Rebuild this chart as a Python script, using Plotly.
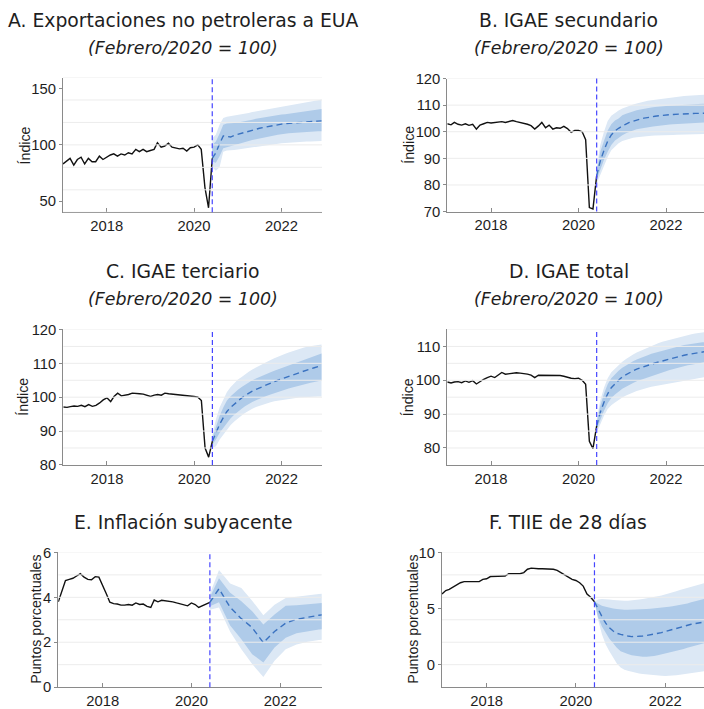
import pandas as pd
import plotly.graph_objects as go

# ---------------- data ----------------
HIST_DATES = pd.date_range("2017-01-01", "2020-06-01", freq="MS")
FC_DATES = pd.date_range("2020-06-01", "2022-12-01", freq="MS")
E_FC_DATES = ["2020-06-01", "2020-08-15", "2020-11-15", "2021-02-15", "2021-05-15", "2021-08-15",
              "2021-11-15", "2022-02-15", "2022-05-15", "2022-08-15", "2022-11-15", "2022-12-31"]
FORECAST_START = "2020-06-01"
YEAR_TICKS = ["2018-01-01", "2020-01-01", "2022-01-01"]
YEAR_LABELS = ["2018", "2020", "2022"]

# A. Exportaciones no petroleras a EUA
A_hist = [83, 86, 88, 82, 87, 89, 83, 88, 85, 85, 90, 87,
          89, 91, 92, 90, 92, 91, 93, 92, 96, 94, 96, 94,
          95, 96, 102, 98, 99, 101.5, 98, 97, 96.5, 97, 94.5, 97.5,
          98, 100, 96, 62, 44, 88]
A_center = [88, 93, 101, 108, 107.5, 107, 108.5,
            109.5, 110.5, 111.5, 112.5, 113.3, 114, 114.8, 115.5, 116.2, 116.8, 117.4, 118,
            118.5, 118.9, 119.2, 119.5, 119.8, 120.1, 120.4, 120.6, 120.8, 121, 121.2, 121.4]
A_in_hi = [100, 103, 110, 118, 119, 119, 119.5,
           120, 120.5, 121, 121.8, 122.5, 123.2, 123.8, 124.4, 125, 125.5, 126, 126.5,
           127, 127.4, 127.8, 128.2, 128.6, 129, 129.5, 130, 130.5, 131, 131.5, 132]
A_in_lo = [85, 84, 90, 97, 98, 99, 99.5,
           100.5, 101.5, 102.5, 103.5, 104.3, 105, 105.8, 106.5, 107.2, 107.8, 108.4, 109,
           109.6, 110, 110.3, 110.6, 110.9, 111.2, 111.4, 111.6, 111.8, 112, 112.1, 112.2]
A_out_hi = [106, 109, 118, 124, 125, 125.5, 126,
            126.5, 127, 127.8, 128.5, 129.2, 129.8, 130.4, 131, 131.6, 132.2, 132.8, 133.3,
            133.8, 134.3, 134.8, 135.3, 135.8, 136.3, 136.8, 137.5, 138.2, 139, 139.8, 140.5]
A_out_lo = [80, 77, 80, 94, 95, 95, 95.5,
            96, 96.5, 97, 97.5, 98, 98.5, 99, 99.4, 99.8, 100.2, 100.6, 101,
            101.4, 101.7, 102, 102.2, 102.4, 102.6, 102.8, 103, 103.1, 103.2, 103.3, 103.4]

# B. IGAE secundario
B_hist = [103, 102.6, 103.5, 102.8, 102.5, 103, 102.4, 102.8, 101, 102.5, 103, 103.5,
          103.3, 103.5, 103.6, 103.8, 103.5, 104, 104.2, 103.8, 103.5, 103.2, 102.8, 102.3,
          101, 102.2, 103.5, 101.5, 102.5, 101, 101.5, 101.3, 102, 101.2, 99.8, 100.5,
          100.5, 100, 97, 71.5, 71, 83.5]
B_center = [83.5, 89, 93, 96.5, 98.8, 100.3, 101.3,
            102.2, 102.9, 103.5, 104, 104.4, 104.8, 105.1, 105.4, 105.6, 105.8, 106, 106.2,
            106.3, 106.4, 106.5, 106.6, 106.7, 106.75, 106.8, 106.85, 106.9, 106.9, 107, 107]
B_in_hi = [85, 92.5, 96.5, 100.5, 102.8, 104.2, 105,
           106.2, 106.8, 107.3, 107.7, 108.1, 108.4, 108.7, 108.9, 109.1, 109.3, 109.5, 109.6,
           109.7, 109.8, 109.9, 110, 110.1, 110.2, 110.3, 110.3, 110.4, 110.4, 110.5, 110.5]
B_in_lo = [82, 86, 89.5, 92.5, 95, 96.7, 97.8,
           98.7, 99.4, 100, 100.5, 100.9, 101.2, 101.5, 101.7, 101.9, 102.1, 102.3, 102.5,
           102.6, 102.7, 102.8, 102.9, 103, 103.1, 103.2, 103.3, 103.3, 103.4, 103.4, 103.5]
B_out_hi = [86.5, 95, 100, 104, 106, 107.2, 108,
            108.7, 109.3, 109.8, 110.2, 110.6, 111, 111.3, 111.6, 111.8, 112, 112.2, 112.4,
            112.6, 112.8, 113, 113.1, 113.2, 113.4, 113.5, 113.6, 113.7, 113.8, 113.9, 114]
B_out_lo = [80.5, 84, 87.5, 90.5, 93, 94.5, 95.7,
            96.5, 97, 97.4, 97.7, 97.9, 98.1, 98.3, 98.4, 98.5, 98.6, 98.6, 98.7,
            98.7, 98.8, 98.8, 98.9, 98.9, 99, 99, 99, 99.1, 99.1, 99.1, 99.2]

# C. IGAE terciario
C_hist = [97.1, 97, 97.2, 97.4, 97.3, 97.6, 97.2, 97.8, 97.3, 97.6, 98.3, 99.2,
          99.8, 98.7, 100.2, 101.2, 100.4, 100.5, 100.8, 101.2, 101, 101, 100.9, 100.6,
          100.2, 100.6, 100.8, 100.6, 101.2, 101, 100.9, 100.7, 100.8, 100.5, 100.4, 100.3,
          100.2, 100, 99, 85, 82.3, 87]
C_center = [87, 89.5, 92, 94, 95.8, 97, 98,
            99, 99.8, 100.5, 101.2, 101.8, 102.3, 102.8, 103.3, 103.8, 104.2, 104.6, 105,
            105.4, 105.8, 106.2, 106.6, 107, 107.4, 107.7, 108, 108.4, 108.7, 109, 109.3]
C_in_hi = [88, 91.5, 94.5, 97, 99, 100.3, 101.3,
           102.2, 103, 103.7, 104.4, 105, 105.5, 106, 106.5, 107, 107.4, 107.8, 108.2,
           108.6, 109, 109.4, 109.8, 110.2, 110.6, 111, 111.4, 111.8, 112.2, 112.5, 112.9]
C_in_lo = [86, 87.5, 89.5, 91, 92.6, 93.8, 94.8,
           95.8, 96.6, 97.3, 98, 98.6, 99.1, 99.6, 100, 100.4, 100.8, 101.2, 101.6,
           102, 102.3, 102.6, 102.9, 103.2, 103.5, 103.8, 104.1, 104.3, 104.5, 104.7, 104.9]
C_out_hi = [89, 93.5, 97, 99.5, 101.5, 103, 104.2,
            105.2, 106, 106.8, 107.5, 108.2, 108.8, 109.4, 110, 110.5, 111, 111.5, 112,
            112.4, 112.8, 113.2, 113.6, 114, 114.3, 114.6, 114.9, 115.1, 115.3, 115.5, 115.6]
C_out_lo = [85, 85.5, 87.5, 89, 90.5, 91.8, 92.8,
            93.8, 94.6, 95.3, 96, 96.6, 97.1, 97.5, 97.9, 98.2, 98.5, 98.8, 99,
            99.2, 99.4, 99.6, 99.7, 99.8, 99.9, 100, 100, 100.1, 100.1, 100.2, 100.2]

# D. IGAE total
D_hist = [99.5, 99.2, 99.5, 99.6, 99.3, 99.8, 99.4, 99.9, 98.9, 99.7, 100.3, 100.8,
          101.2, 100.8, 101.5, 102.3, 101.8, 102, 102.1, 102.2, 102.1, 102, 101.8, 101.5,
          100.8, 101.5, 101.5, 101.3, 101.5, 101.5, 101.4, 101.4, 101.2, 100.8, 100.6, 100.5,
          100.6, 100, 98.8, 82, 79.8, 86.5]
D_center = [86.5, 90.5, 93.5, 96, 97.8, 99, 100,
            101, 101.7, 102.3, 102.8, 103.3, 103.7, 104.1, 104.5, 104.8, 105.1, 105.4, 105.7,
            106, 106.3, 106.6, 106.9, 107.1, 107.4, 107.6, 107.8, 108, 108.2, 108.4, 108.5]
D_in_hi = [87.5, 92.5, 96, 98.8, 100.6, 101.8, 102.8,
           103.7, 104.4, 105, 105.6, 106.1, 106.6, 107, 107.4, 107.8, 108.1, 108.4, 108.8,
           109.1, 109.4, 109.7, 110, 110.2, 110.4, 110.6, 110.8, 111, 111.1, 111.2, 111.3]
D_in_lo = [85.5, 88.5, 91, 93.2, 94.8, 95.8, 96.7,
           97.5, 98.1, 98.7, 99.2, 99.7, 100.1, 100.5, 100.9, 101.3, 101.7, 102, 102.4,
           102.7, 103, 103.3, 103.6, 103.9, 104.2, 104.4, 104.6, 104.8, 105, 105.2, 105.4]
D_out_hi = [88.5, 94, 97.8, 100.6, 102.4, 103.5, 104.5,
            105.5, 106.3, 107, 107.6, 108.2, 108.7, 109.2, 109.7, 110.2, 110.6, 111, 111.4,
            111.7, 112, 112.3, 112.6, 112.9, 113.2, 113.4, 113.6, 113.8, 114, 114.2, 114.3]
D_out_lo = [84.5, 87, 89.5, 91.5, 92.6, 93.4, 94.2,
            94.9, 95.5, 96, 96.4, 96.8, 97.2, 97.5, 97.8, 98.1, 98.3, 98.5, 98.7,
            98.9, 99.1, 99.3, 99.5, 99.7, 99.9, 100.1, 100.3, 100.5, 100.7, 100.8, 101]

# E. Inflación subyacente
E_hist = [3.8, 4.3, 4.75, 4.8, 4.85, 4.95, 5.05, 4.9, 4.8, 4.78, 4.92, 4.9,
          4.55, 4.15, 3.78, 3.72, 3.7, 3.65, 3.65, 3.68, 3.65, 3.75, 3.68, 3.7,
          3.6, 3.55, 3.88, 3.8, 3.87, 3.85, 3.82, 3.8, 3.75, 3.7, 3.65, 3.62,
          3.75, 3.68, 3.55, 3.62, 3.72, 3.78]
E_center = [3.78, 4.38, 3.55, 3.05, 2.65, 1.98, 2.48, 2.85, 3.02, 3.12, 3.2, 3.23]
E_in_hi = [4.0, 4.85, 4.2, 3.82, 3.38, 2.79, 3.23, 3.62, 3.65, 3.7, 3.75, 3.76]
E_in_lo = [3.6, 3.78, 2.75, 2.13, 1.47, 1.1, 1.76, 2.2, 2.4, 2.5, 2.57, 2.58]
E_out_hi = [4.15, 5.22, 4.62, 4.41, 3.85, 3.2, 3.67, 3.97, 4.02, 4.1, 4.15, 4.16]
E_out_lo = [3.45, 3.55, 2.47, 1.69, 1.03, 0.45, 1.17, 1.69, 1.9, 2.02, 2.1, 2.12]

# F. TIIE de 28 días
F_hist = [6.3, 6.6, 6.7, 6.9, 7.1, 7.3, 7.4, 7.4, 7.4, 7.4, 7.4, 7.6,
          7.65, 7.85, 7.85, 7.85, 7.85, 7.9, 8.1, 8.1, 8.1, 8.1, 8.2, 8.5,
          8.6, 8.55, 8.55, 8.55, 8.55, 8.55, 8.5, 8.4, 8.2, 8.0, 7.85, 7.6,
          7.5, 7.3, 7.0, 6.3, 6.0, 5.6]
F_center = [5.6, 4.9, 4.3, 3.7, 3.3, 3.0, 2.8,
            2.7, 2.6, 2.55, 2.5, 2.5, 2.5, 2.55, 2.6, 2.65, 2.7, 2.78, 2.86,
            2.95, 3.05, 3.15, 3.25, 3.35, 3.45, 3.52, 3.6, 3.66, 3.72, 3.78, 3.83]
F_in_hi = [5.6, 5.4, 5.25, 5.15, 5.05, 5.0, 4.95,
           4.9, 4.9, 4.9, 4.9, 4.9, 4.9, 4.92, 4.95, 4.98, 5.0, 5.03, 5.07,
           5.1, 5.15, 5.2, 5.25, 5.3, 5.38, 5.46, 5.55, 5.64, 5.73, 5.82, 5.9]
F_in_lo = [5.6, 4.2, 3.4, 2.8, 2.3, 1.9, 1.5,
           1.2, 1.05, 0.95, 0.85, 0.78, 0.73, 0.7, 0.7, 0.72, 0.78, 0.85, 0.92,
           1.0, 1.08, 1.16, 1.24, 1.32, 1.4, 1.5, 1.6, 1.7, 1.8, 1.88, 1.95]
F_out_hi = [5.6, 5.8, 5.85, 5.85, 5.8, 5.75, 5.72,
            5.7, 5.7, 5.7, 5.72, 5.75, 5.8, 5.85, 5.9, 5.97, 6.03, 6.1, 6.17,
            6.25, 6.35, 6.45, 6.55, 6.65, 6.75, 6.85, 6.95, 7.05, 7.15, 7.23, 7.3]
F_out_lo = [5.6, 4.0, 2.7, 1.8, 1.2, 0.6, 0.1,
            -0.25, -0.45, -0.55, -0.65, -0.72, -0.78, -0.83, -0.87, -0.9, -0.93, -0.96, -0.98,
            -1.0, -1.0, -0.98, -0.95, -0.9, -0.85, -0.8, -0.75, -0.7, -0.65, -0.6, -0.55]

TITLES = ["A. Exportaciones no petroleras a EUA", "B. IGAE secundario", "C. IGAE terciario",
          "D. IGAE total", "E. Inflación subyacente", "F. TIIE de 28 días"]
SUBTITLE = "(Febrero/2020 = 100)"
Y_TITLES = ["Índice", "Índice", "Índice", "Índice", "Puntos porcentuales", "Puntos porcentuales"]

# ---------------- layout config (target pixels) ----------------
W, H = 704, 709


def vy(y):
    """target vertical pixel -> layout pixel (compensates the page capture)."""
    return y / 0.978 - 8


panels = [
    dict(hist=A_hist, fcx=FC_DATES, c=A_center, ih=A_in_hi, il=A_in_lo, oh=A_out_hi, ol=A_out_lo,
         yr=[40, 160], yt=[50, 100, 150], grid=[40, 60, 80, 100, 120, 140, 160],
         px=(63, 322), py=(78, 214), xr=["2017-01-01", "2022-12-05"], tx=183, sub=True, ytx=24.5,
         title_y=(20.5, 48.5)),
    dict(hist=B_hist, fcx=FC_DATES, c=B_center, ih=B_in_hi, il=B_in_lo, oh=B_out_hi, ol=B_out_lo,
         yr=[70, 120], yt=[70, 80, 90, 100, 110, 120], grid=[80, 90, 100, 110, 120],
         px=(447.3, 704), py=(79, 213.3), xr=["2017-01-01", "2022-11-14"], tx=568.5, sub=True, ytx=408.7,
         title_y=(20.5, 48.5)),
    dict(hist=C_hist, fcx=FC_DATES, c=C_center, ih=C_in_hi, il=C_in_lo, oh=C_out_hi, ol=C_out_lo,
         yr=[80, 120], yt=[80, 90, 100, 110, 120], grid=[85, 90, 95, 100, 105, 110, 115, 120],
         px=(63.3, 322), py=(332.3, 469), xr=["2017-01-01", "2022-12-05"], tx=183, sub=True, ytx=23.5,
         title_y=(273.5, 302)),
    dict(hist=D_hist, fcx=FC_DATES, c=D_center, ih=D_in_hi, il=D_in_lo, oh=D_out_hi, ol=D_out_lo,
         yr=[75, 115], yt=[80, 90, 100, 110], grid=[80, 85, 90, 95, 100, 105, 110, 115],
         px=(447.3, 704), py=(332.3, 469), xr=["2017-01-01", "2022-11-14"], tx=568.5, sub=True, ytx=408,
         title_y=(273.5, 302)),
    dict(hist=E_hist, fcx=E_FC_DATES, c=E_center, ih=E_in_hi, il=E_in_lo, oh=E_out_hi, ol=E_out_lo,
         yr=[0, 6], yt=[0, 2, 4, 6], grid=[1, 2, 3, 4, 5, 6],
         px=(58.3, 321.7), py=(557.3, 693.3), xr=["2017-01-01", "2022-12-08"], tx=183.3, sub=False, ytx=36,
         title_y=(527, None)),
    dict(hist=F_hist, fcx=FC_DATES, c=F_center, ih=F_in_hi, il=F_in_lo, oh=F_out_hi, ol=F_out_lo,
         yr=[-2, 10], yt=[0, 5, 10], grid=[0, 2, 4, 6, 8, 10],
         px=(442, 704), py=(557.3, 693.3), xr=["2017-01-01", "2022-11-14"], tx=568, sub=False, ytx=413,
         title_y=(527, None)),
]

C_OUTER = "#dce8f5"
C_INNER = "#afcbe9"
C_MEAN = "#3a72c0"
C_VLINE = "#4646ff"
C_AXIS = "#8a8a8a"
C_GRID = "#ececec"
C_TEXT = "#1e1e1e"
TICK_FONT = dict(family="Liberation Sans, Arial, sans-serif", size=14.8, color=C_TEXT)
TITLE_FONT = dict(family="DejaVu Sans, sans-serif", size=18.8, color=C_TEXT)
SUB_FONT = dict(family="DejaVu Sans, sans-serif", size=17.4, color=C_TEXT)

fig = go.Figure()
annotations = []
shapes = []
layout_axes = {}

for i, p in enumerate(panels):
    n = i + 1
    xs = "" if n == 1 else str(n)
    xa, ya = "x" + xs, "y" + xs
    # bands
    fig.add_trace(go.Scatter(x=p["fcx"], y=p["ol"], mode="lines", line=dict(width=0),
                             xaxis=xa, yaxis=ya, hoverinfo="skip"))
    fig.add_trace(go.Scatter(x=p["fcx"], y=p["oh"], mode="lines", line=dict(width=0),
                             fill="tonexty", fillcolor=C_OUTER, xaxis=xa, yaxis=ya, hoverinfo="skip"))
    fig.add_trace(go.Scatter(x=p["fcx"], y=p["il"], mode="lines", line=dict(width=0),
                             xaxis=xa, yaxis=ya, hoverinfo="skip"))
    fig.add_trace(go.Scatter(x=p["fcx"], y=p["ih"], mode="lines", line=dict(width=0),
                             fill="tonexty", fillcolor=C_INNER, xaxis=xa, yaxis=ya, hoverinfo="skip"))
    # central forecast
    fig.add_trace(go.Scatter(x=p["fcx"], y=p["c"], mode="lines",
                             line=dict(color=C_MEAN, width=1.4, dash="6px,4px"), xaxis=xa, yaxis=ya))
    # history
    fig.add_trace(go.Scatter(x=HIST_DATES, y=p["hist"], mode="lines",
                             line=dict(color="#111111", width=1.4), xaxis=xa, yaxis=ya))

    x0, x1 = p["px"][0] / W, p["px"][1] / W
    y0, y1 = 1 - vy(p["py"][1]) / H, 1 - vy(p["py"][0]) / H
    layout_axes["xaxis" + xs] = dict(
        domain=[x0, x1], anchor=ya, type="date", range=p["xr"],
        tickmode="array", tickvals=YEAR_TICKS, ticktext=YEAR_LABELS,
        ticks="inside", ticklen=4, tickcolor=C_AXIS, tickwidth=1,
        showline=True, linecolor=C_AXIS, linewidth=1, showgrid=False, zeroline=False,
        tickfont=TICK_FONT, fixedrange=True)
    layout_axes["yaxis" + xs] = dict(
        domain=[y0, y1], anchor=xa, range=p["yr"],
        tickmode="array", tickvals=p["yt"],
        ticks="outside", ticklen=3, tickcolor=C_AXIS, tickwidth=1,
        showline=True, linecolor=C_AXIS, linewidth=1, showgrid=False, zeroline=False,
        tickfont=TICK_FONT, fixedrange=True)

    # grid lines drawn above the bands
    for g in p["grid"]:
        shapes.append(dict(type="line", xref=xa + " domain", x0=0, x1=1, yref=ya, y0=g, y1=g,
                           line=dict(color=C_GRID, width=1), layer="above"))
    # vertical forecast-start line
    shapes.append(dict(type="line", xref=xa, x0=FORECAST_START, x1=FORECAST_START,
                       yref=ya + " domain", y0=0, y1=1,
                       line=dict(color=C_VLINE, width=1.2, dash="5px,3px"), layer="above"))

    # titles
    ty_main, ty_sub = p["title_y"]
    annotations.append(dict(text=TITLES[i], xref="paper", yref="paper", x=p["tx"] / W,
                            y=1 - vy(ty_main) / H, xanchor="center", yanchor="middle",
                            showarrow=False, font=TITLE_FONT))
    if p["sub"]:
        annotations.append(dict(text="<i>" + SUBTITLE + "</i>", xref="paper", yref="paper",
                                x=p["tx"] / W, y=1 - vy(ty_sub) / H, xanchor="center",
                                yanchor="middle", showarrow=False, font=SUB_FONT))
    # y-axis title
    annotations.append(dict(text=Y_TITLES[i], xref="paper", yref="paper", x=p["ytx"] / W,
                            y=1 - vy((p["py"][0] + p["py"][1]) / 2) / H, xanchor="center",
                            yanchor="middle", textangle=-90, showarrow=False,
                            font=dict(family="Liberation Sans, Arial, sans-serif", size=14.2,
                                      color=C_TEXT)))

fig.update_layout(
    width=W, height=H, margin=dict(l=0, r=0, t=0, b=0),
    paper_bgcolor="white", plot_bgcolor="white", showlegend=False,
    annotations=annotations, shapes=shapes, **layout_axes)

fig.write_html("out.html", config={"displayModeBar": False})
